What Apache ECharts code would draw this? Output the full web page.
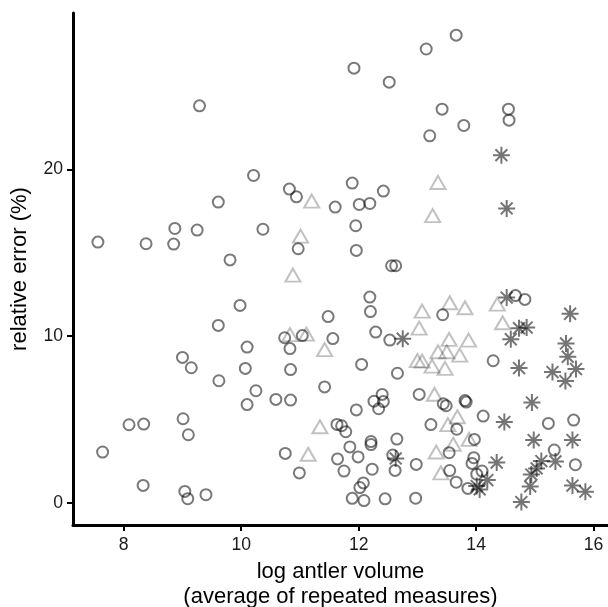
<!DOCTYPE html>
<html>
<head>
<meta charset="utf-8">
<script src="https://cdn.jsdelivr.net/npm/echarts@6/dist/echarts.min.js"></script>
<style>
html,body{margin:0;padding:0;background:#fff;}
#chart{width:608px;height:607px;}
</style>
</head>
<body>
<div id="chart"></div>
<script>
// ---- data (log antler volume, relative error %) ----
var circleX = [13.66,13.15,11.92,12.52,9.29,13.42,14.55,14.56,13.79,13.21,
  10.21,11.89,10.82,12.42,10.94,9.61,12.19,12.01,11.60,11.95,
  8.87,9.25,10.37,7.56,8.38,8.85,10.97,11.96,9.81,12.56,
  12.63,12.19,9.98,12.20,11.48,13.43,14.67,14.83,9.61,12.29,
  10.74,11.04,11.56,12.53,10.10,10.83,9.00,14.29,12.05,9.15,
  10.07,10.84,12.66,9.62,11.42,10.25,12.40,13.03,10.59,10.84,
  12.26,12.42,13.44,13.49,13.81,13.83,10.10,12.34,11.96,14.12,
  9.01,8.09,8.34,11.63,11.71,13.23,15.23,15.66,11.78,13.67,
  9.10,12.65,12.21,12.21,13.97,11.85,7.64,10.75,15.33,12.58,
  11.99,13.54,11.64,12.98,13.96,13.93,15.69,10.99,11.75,12.23,
  12.62,13.55,14.10,14.01,13.66,12.08,12.02,8.33,13.86,9.04,
  9.09,9.40,11.89,12.09,12.45,12.97];
var circleY = [28.06,27.23,26.08,25.24,23.82,23.62,23.62,22.96,22.64,22.02,
  19.64,19.18,18.82,18.70,18.36,18.04,17.96,17.90,17.74,16.62,
  16.46,16.36,16.41,15.64,15.54,15.52,15.24,15.14,14.57,14.22,
  14.22,12.34,11.84,11.47,11.17,11.28,12.43,12.20,10.64,10.24,
  9.90,10.03,9.85,9.76,9.34,9.25,8.72,8.52,8.30,8.10,
  8.06,7.99,7.77,7.32,6.95,6.72,6.50,6.50,6.20,6.16,
  6.09,6.07,5.94,5.82,6.13,6.04,5.89,5.64,5.57,5.20,
  5.04,4.68,4.72,4.70,4.62,4.69,4.76,4.96,4.26,4.41,
  4.08,3.82,3.67,3.49,3.80,3.35,3.04,2.96,3.16,2.86,
  2.75,3.00,2.63,2.30,2.70,2.36,2.28,1.79,1.90,2.01,
  1.94,1.93,1.90,1.71,1.23,1.19,0.91,1.04,0.86,0.68,
  0.24,0.48,0.26,0.13,0.23,0.27];

var triangleX = [11.20,11.01,10.88,13.35,13.26,10.83,11.11,11.42,13.08,13.03,
  13.55,13.81,14.36,14.45,13.54,13.87,13.35,13.50,13.72,13.00,
  13.08,13.25,13.47,13.29,11.34,13.68,13.52,11.14,13.61,13.88,
  13.32,13.40];
var triangleY = [18.10,16.00,13.66,19.22,17.23,10.09,10.12,9.19,11.50,10.48,
  12.00,11.70,11.92,10.80,9.80,9.76,9.06,9.06,8.86,8.53,
  8.50,8.20,8.06,6.51,4.56,5.16,4.69,2.91,3.51,3.80,
  3.04,1.79];

var asteriskX = [14.43,14.52,14.52,14.73,14.86,14.59,15.60,15.53,15.56,14.73,
  15.30,15.70,15.52,12.75,14.95,14.48,14.98,15.64,12.63,14.35,
  15.11,15.35,15.03,14.94,14.19,14.92,15.64,14.01,14.06,15.86,
  14.77];
var asteriskY = [20.86,17.66,12.31,10.47,10.51,9.81,11.34,9.56,8.76,8.08,
  7.84,8.02,7.30,9.84,6.01,4.84,3.76,3.76,2.66,2.41,
  2.50,2.48,2.06,1.69,1.36,0.98,1.03,1.00,0.80,0.66,
  0.04];

var xTicks = [8, 10, 12, 14, 16];
var yTicks = [0, 10, 20];
var xTitle = 'log antler volume\n(average of repeated measures)';
var yTitle = 'relative error (%)';

function zip(a, b) { return a.map(function (v, i) { return [v, b[i]]; }); }

var FONT = '"Liberation Sans", Arial, sans-serif';
var chart = echarts.init(document.getElementById('chart'), null, {renderer: 'canvas'});
var axisCommon = {
  axisLine: {show: true, onZero: false, lineStyle: {color: '#000', width: 3}},
  axisTick: {show: true, length: 6, lineStyle: {color: '#000', width: 2}},
  splitLine: {show: false},
  nameLocation: 'middle',
  nameTextStyle: {fontFamily: FONT, fontSize: 22, color: '#000', lineHeight: 25}
};
chart.setOption({
  animation: false,
  backgroundColor: '#fff',
  grid: {left: 73, right: 0, top: 13, bottom: 82, containLabel: false, outerBoundsMode: 'none'},
  xAxis: Object.assign({}, axisCommon, {
    type: 'value', min: 7.136, max: 16.245,
    name: xTitle, nameGap: 34,
    axisTick: Object.assign({}, axisCommon.axisTick, {customValues: xTicks}),
    axisLabel: {customValues: xTicks, margin: 11, fontFamily: FONT, fontSize: 17.6, color: '#1a1a1a'}
  }),
  yAxis: Object.assign({}, axisCommon, {
    type: 'value', min: -1.338, max: 29.39,
    name: yTitle, nameGap: 20,
    axisTick: Object.assign({}, axisCommon.axisTick, {customValues: yTicks}),
    axisLabel: {customValues: yTicks, margin: 10, fontFamily: FONT, fontSize: 17.6, color: '#1a1a1a'}
  }),
  series: [
    {
      type: 'scatter', name: 'circle', data: zip(circleX, circleY),
      symbol: 'circle', symbolSize: 11,
      itemStyle: {color: 'rgba(0,0,0,0)', borderColor: 'rgba(0,0,0,0.66)', borderWidth: 2}
    },
    {
      type: 'scatter', name: 'triangle', data: zip(triangleX, triangleY),
      symbol: 'triangle', symbolSize: [15, 13],
      itemStyle: {color: 'rgba(0,0,0,0)', borderColor: 'rgba(0,0,0,0.3)', borderWidth: 2}
    },
    {
      type: 'scatter', name: 'asterisk', data: zip(asteriskX, asteriskY),
      symbol: 'path://M10,0L10,20M0,10L20,10M3,3L17,17M3,17L17,3', symbolSize: 17,
      itemStyle: {color: 'rgba(0,0,0,0)', borderColor: 'rgba(0,0,0,0.68)', borderWidth: 2}
    }
  ]
});
</script>
</body>
</html>
